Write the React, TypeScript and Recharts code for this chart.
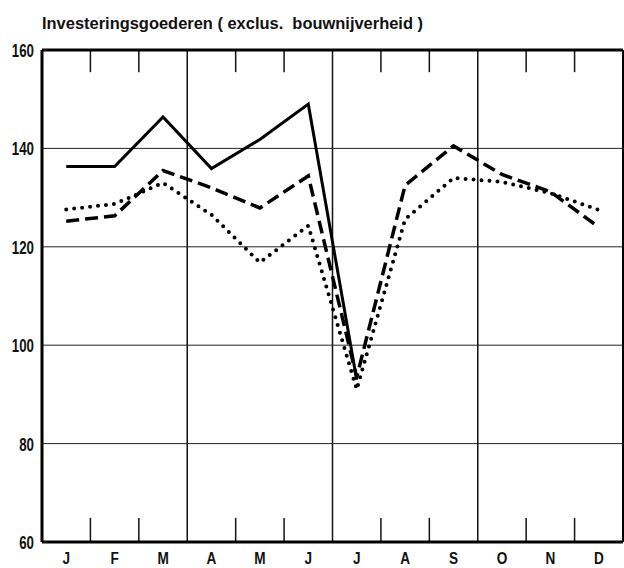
import React from 'react';
import { LineChart, Line, XAxis, YAxis, CartesianGrid, ReferenceLine } from 'recharts';

const title = 'Investeringsgoederen ( exclus.  bouwnijverheid )';
const months = ['J', 'F', 'M', 'A', 'M', 'J', 'J', 'A', 'S', 'O', 'N', 'D'];
const solidSeries: (number | null)[] = [136.3, 136.3, 146.4, 135.9, 141.8, 149.0, 93.0, null, null, null, null, null];
const dashedSeries: (number | null)[] = [125.2, 126.3, 135.5, 132.0, 127.9, 134.4, 93.5, 132.5, 140.5, 134.7, 131.2, 124.0];
const dottedSeries: (number | null)[] = [127.6, 128.7, 133.0, 126.5, 116.8, 124.3, 91.0, 125.6, 134.0, 133.2, 130.9, 127.5];
const yTicks = [60, 80, 100, 120, 140, 160];
const quarterLines = [3, 6, 9];
const monthBoundaries = [1, 2, 4, 5, 7, 8, 10, 11];

const Y_MIN = 60;
const Y_MAX = 160;
const TOP_TICK_LEN = 4.5;
const BOTTOM_TICK_LEN = 4.9;

const rows = months.map((m, i) => ({
  pos: i + 0.5,
  month: m,
  solid: solidSeries[i],
  dashed: dashedSeries[i],
  dotted: dottedSeries[i],
}));

const xTicks = months.map((_, i) => i + 0.5);

const FONT = '"Liberation Sans", Arial, sans-serif';

const XTick = (props: any) => {
  const { x, y, payload } = props;
  const idx = Math.round(payload.value - 0.5);
  return (
    <g transform={`translate(${x},${y})`}>
      <text
        x={0}
        y={0}
        dy={14}
        textAnchor="middle"
        transform="scale(0.8,1)"
        fontFamily={FONT}
        fontWeight="bold"
        fontSize={17}
        fill="#111"
      >
        {months[idx]}
      </text>
    </g>
  );
};

const YTick = (props: any) => {
  const { x, y, payload } = props;
  return (
    <g transform={`translate(${x},${y})`}>
      <text
        x={0}
        y={0}
        dy={7}
        textAnchor="end"
        transform="scale(0.7,1)"
        fontFamily={FONT}
        fontWeight="bold"
        fontSize={19}
        fill="#111"
      >
        {payload.value}
      </text>
    </g>
  );
};

export default function App() {
  return (
    <div style={{ position: 'absolute', left: 0, top: 0, width: 624, height: 568, background: '#fff' }}>
      <svg width={624} height={40} style={{ position: 'absolute', left: 0, top: 0 }}>
        <text
          x={42}
          y={29}
          textLength={381}
          lengthAdjust="spacingAndGlyphs"
          fontFamily={FONT}
          fontWeight="bold"
          fontSize={16}
          fill="#111"
          style={{ whiteSpace: 'pre' }}
        >
          {title}
        </text>
      </svg>
      <div style={{ position: 'absolute', left: 0, top: 0 }}>
        <LineChart width={624} height={568} data={rows} margin={{ top: 50, right: 1, left: 0, bottom: 0 }}>
          <CartesianGrid vertical={false} stroke="#222" strokeWidth={1} />
          <XAxis
            type="number"
            dataKey="pos"
            domain={[0, 12]}
            ticks={xTicks}
            interval={0}
            tick={<XTick />}
            tickLine={false}
            axisLine={false}
            height={26}
            allowDataOverflow
          />
          <YAxis
            type="number"
            domain={[Y_MIN, Y_MAX]}
            ticks={yTicks}
            interval={0}
            tick={<YTick />}
            tickLine={false}
            axisLine={false}
            width={42}
            allowDataOverflow
          />
          {quarterLines.map((q) => (
            <ReferenceLine key={`q${q}`} x={q} stroke="#111" strokeWidth={1.5} />
          ))}
          {monthBoundaries.map((b) => (
            <ReferenceLine
              key={`t${b}`}
              segment={[{ x: b, y: Y_MAX }, { x: b, y: Y_MAX - TOP_TICK_LEN }]}
              stroke="#111"
              strokeWidth={1.5}
            />
          ))}
          {monthBoundaries.map((b) => (
            <ReferenceLine
              key={`b${b}`}
              segment={[{ x: b, y: Y_MIN }, { x: b, y: Y_MIN + BOTTOM_TICK_LEN }]}
              stroke="#111"
              strokeWidth={1.5}
            />
          ))}
          <ReferenceLine y={Y_MAX} stroke="#000" strokeWidth={3} />
          <ReferenceLine y={Y_MIN} stroke="#000" strokeWidth={3} />
          <ReferenceLine x={0} stroke="#000" strokeWidth={3} />
          <ReferenceLine x={12} stroke="#000" strokeWidth={2} />
          <Line
            type="linear"
            dataKey="dotted"
            stroke="#000"
            strokeWidth={4}
            strokeDasharray="0 8"
            strokeLinecap="round"
            dot={false}
            isAnimationActive={false}
          />
          <Line
            type="linear"
            dataKey="dashed"
            stroke="#000"
            strokeWidth={3.5}
            strokeDasharray="13 6"
            dot={false}
            isAnimationActive={false}
          />
          <Line
            type="linear"
            dataKey="solid"
            stroke="#000"
            strokeWidth={3}
            dot={false}
            connectNulls={false}
            isAnimationActive={false}
          />
        </LineChart>
      </div>
    </div>
  );
}
